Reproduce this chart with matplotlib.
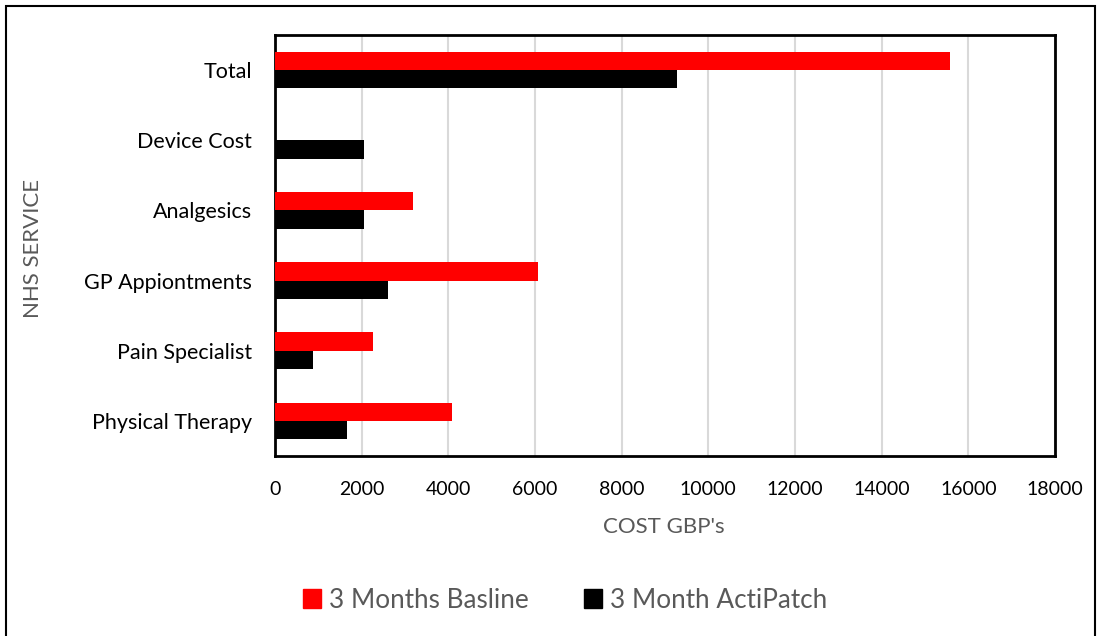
import matplotlib
import matplotlib.pyplot as plt
import numpy as np
from matplotlib.patches import Patch, Rectangle

plt.rcParams['font.family'] = ['Lato', 'DejaVu Sans']

services = ["Total", "Device Cost", "Analgesics", "GP Appiontments",
            "Pain Specialist", "Physical Therapy"]
baseline = [15570, 0, 3180, 6060, 2250, 4085]
actipatch = [9270, 2055, 2055, 2610, 870, 1670]
xticks = [0, 2000, 4000, 6000, 8000, 10000, 12000, 14000, 16000, 18000]

fig = plt.figure(figsize=(11.01, 6.36), dpi=100)
ax = fig.add_axes([0.2498, 0.283, 0.7084, 0.662])

y = np.arange(len(services))
h = 0.262
ax.barh(y - h / 2, baseline, height=h, color='#ff0000', zorder=3)
ax.barh(y + h / 2, actipatch, height=h, color='#000000', zorder=3)

ax.set_ylim(len(services) - 0.5, -0.5)
ax.set_xlim(0, 18000)
ax.set_yticks(y)
ax.set_yticklabels(services, fontsize=15.5)
ax.set_xticks(xticks)
ax.set_xticklabels([str(t) for t in xticks], fontsize=14)
ax.tick_params(length=0)
ax.tick_params(axis='y', pad=16.5)
ax.tick_params(axis='x', pad=18)
ax.grid(axis='x', color='#d9d9d9', linewidth=1.5, zorder=0)
for s in ax.spines.values():
    s.set_linewidth(2)
    s.set_color('black')

ax.set_xlabel("COST GBP's", fontsize=16, color='#595959')
ax.set_ylabel("NHS SERVICE", fontsize=16, color='#595959')
ax.xaxis.set_label_coords(0.499, -0.169)
ax.yaxis.set_label_coords(-0.310, 0.494)
ax.xaxis.label.set_va('center')
ax.yaxis.label.set_va('center')

handles = [Patch(color='#ff0000', label='3 Months Basline'),
           Patch(color='#000000', label='3 Month ActiPatch')]
leg = fig.legend(handles=handles, loc='center', bbox_to_anchor=(565 / 1101, 1 - 600 / 636),
                 ncol=2, frameon=False, fontsize=18.8, handlelength=0.7, handleheight=0.7,
                 handletextpad=0.3, columnspacing=2.1)
for t in leg.get_texts():
    t.set_color('#595959')

fig.patches.append(Rectangle((6 / 1101, -0.05), 1089 / 1101, 1.05 - 6 / 636,
                             transform=fig.transFigure, fill=False,
                             edgecolor='black', linewidth=1.5))

fig.savefig("out.png", dpi=100)
